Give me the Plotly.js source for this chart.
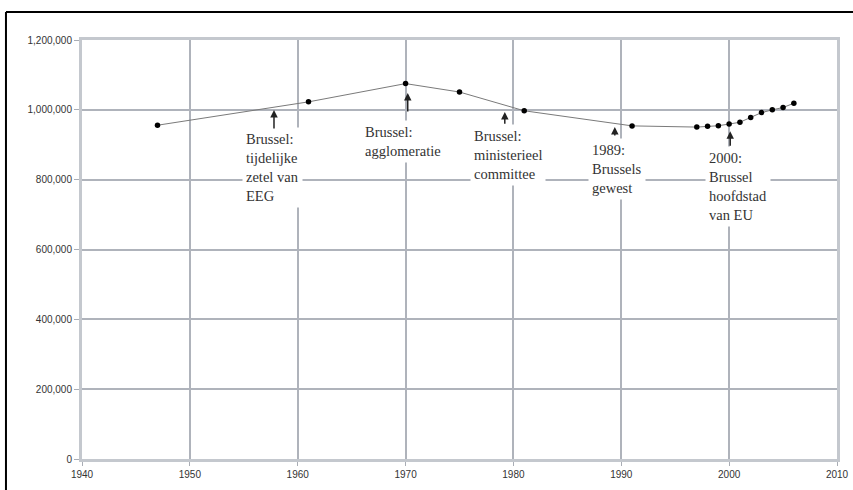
<!DOCTYPE html>
<html>
<head>
<meta charset="utf-8">
<script src="https://cdn.plot.ly/plotly-3.0.1.min.js"></script>
<style>html,body{margin:0;padding:0;background:#fff;}#chart{width:853px;height:490px;}</style>
</head>
<body>
<div id="chart"></div>
<script>
// Population of Brussels (Brussels-Capital Region)
const years = [1947, 1961, 1970, 1975, 1981, 1991, 1997, 1998, 1999, 2000, 2001, 2002, 2003, 2004, 2005, 2006];
const population = [955929, 1022795, 1075136, 1051000, 997293, 954045, 950597, 953175, 954460, 959318, 964405, 978384, 992041, 999899, 1006749, 1018804];

// Event annotations
const eventTexts = [
  "Brussel:<br>tijdelijke<br>zetel van<br>EEG",
  "Brussel:<br>agglomeratie",
  "Brussel:<br>ministerieel<br>committee",
  "1989:<br>Brussels<br>gewest",
  "2000:<br>Brussel<br>hoofdstad<br>van EU"
];
const eventYears = [1957.8, 1970.2, 1979.2, 1989.4, 2000.1];
const arrowHeads = [999500, 1048000, 994000, 951000, 939000];
const arrowTails = [942000, 991000, 956000, 922000, 893000];
const labelX = [1954.8, 1965.9, 1976.0, 1986.95, 1997.8];
const labelY = [952000, 972000, 960000, 918000, 897000];

const xTicks = [1940, 1950, 1960, 1970, 1980, 1990, 2000, 2010];
const yTicks = [0, 200000, 400000, 600000, 800000, 1000000, 1200000];

const trace = {
  x: years, y: population, type: 'scatter', mode: 'lines+markers',
  line: {color: '#7a7a7a', width: 1},
  marker: {color: '#000', size: 5.5, symbol: 'circle'},
  hoverinfo: 'x+y', showlegend: false
};

const annotations = [];
for (let i = 0; i < eventTexts.length; i++) {
  annotations.push({
    x: labelX[i], y: labelY[i], xref: 'x', yref: 'y',
    xanchor: 'left', yanchor: 'top', align: 'left',
    text: eventTexts[i], showarrow: false,
    bgcolor: '#ffffff', borderpad: 3,
    font: {family: 'Liberation Serif, Times New Roman, serif', size: 14.5, color: '#333'}
  });
}
for (let i = 0; i < eventYears.length; i++) {
  annotations.push({
    x: eventYears[i], y: arrowHeads[i], xref: 'x', yref: 'y',
    ax: eventYears[i], ay: arrowTails[i], axref: 'x', ayref: 'y',
    text: '', showarrow: true, arrowhead: 2, arrowsize: 1, arrowwidth: 1.5,
    arrowcolor: '#222', standoff: 0, startstandoff: 0
  });
}

const gridColor = '#afb3bb';
const tickFont = {family: 'Liberation Sans, Arial, sans-serif', size: 10, color: '#333'};

const layout = {
  width: 853, height: 490,
  margin: {l: 82, r: 16, t: 40, b: 31},
  paper_bgcolor: '#fff', plot_bgcolor: '#fff',
  xaxis: {
    range: [1940, 2010], tickvals: xTicks, ticktext: xTicks.map(String),
    showgrid: true, gridcolor: gridColor, gridwidth: 2,
    showline: true, mirror: true, linecolor: '#c4c8ce', linewidth: 3,
    ticks: 'outside', ticklen: 4, tickcolor: '#a9adb5',
    zeroline: false, tickfont: tickFont, fixedrange: true
  },
  yaxis: {
    range: [0, 1200000], tickvals: yTicks,
    ticktext: yTicks.map(v => v.toLocaleString('en-US')),
    showgrid: true, gridcolor: gridColor, gridwidth: 2,
    showline: true, mirror: true, linecolor: '#c4c8ce', linewidth: 3,
    ticks: 'outside', ticklen: 5, tickcolor: '#a9adb5',
    zeroline: false, tickfont: tickFont, fixedrange: true
  },
  annotations: annotations,
  shapes: [
    {type: 'line', xref: 'paper', yref: 'paper', x0: -0.1007, x1: 1.03, y0: 1.0668, y1: 1.0668, line: {color: '#000', width: 2}},
    {type: 'line', xref: 'paper', yref: 'paper', x0: -0.1007, x1: -0.1007, y0: 1.0668, y1: -0.08, line: {color: '#000', width: 2}}
  ]
};

Plotly.newPlot('chart', [trace], layout, {displayModeBar: false, staticPlot: true});
</script>
</body>
</html>
